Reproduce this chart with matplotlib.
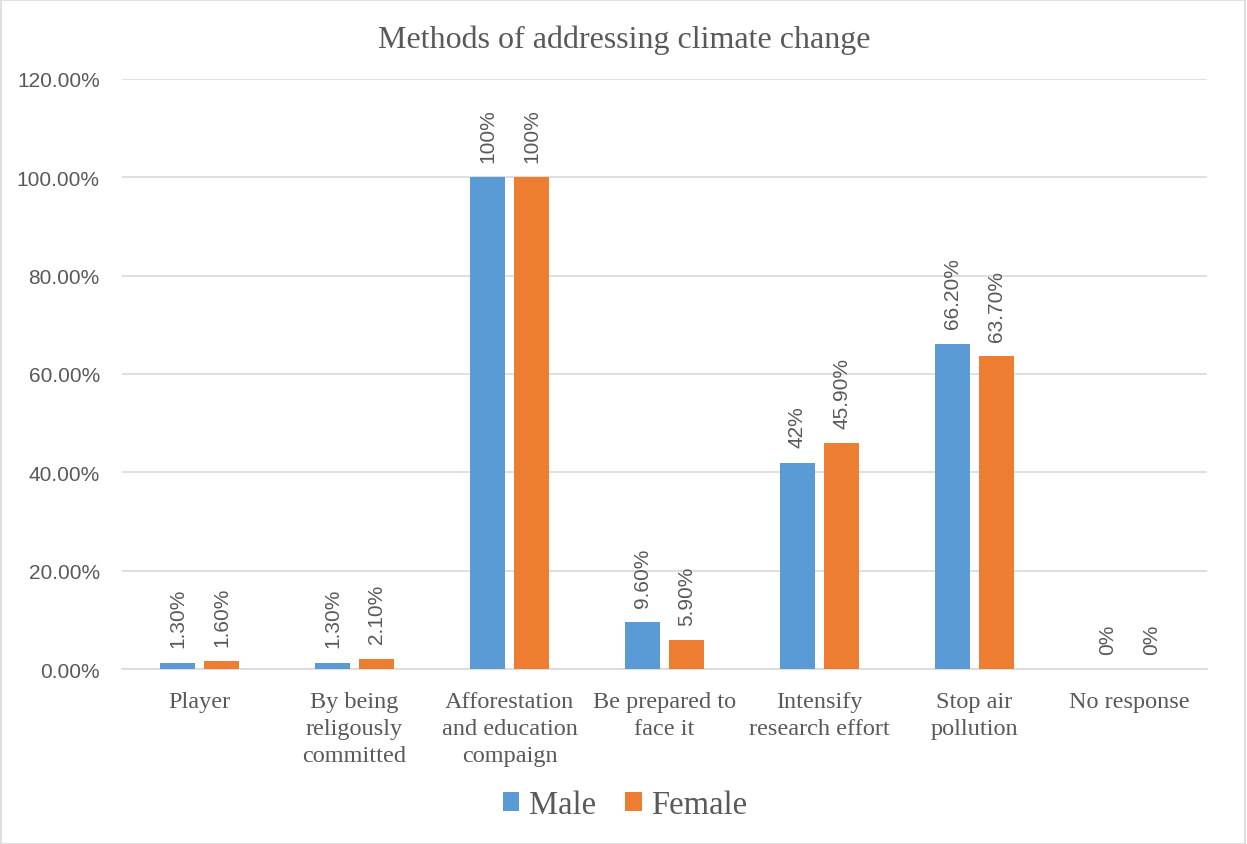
import matplotlib
matplotlib.use("Agg")
import matplotlib.pyplot as plt
import numpy as np
from matplotlib.patches import Rectangle

categories = ["Player", "By being\nreligously\ncommitted", "Afforestation\nand education\ncompaign",
              "Be prepared to\nface it", "Intensify\nresearch effort", "Stop air\npollution", "No response"]
male = [1.3, 1.3, 100, 9.6, 42, 66.2, 0]
female = [1.6, 2.1, 100, 5.9, 45.9, 63.7, 0]
male_labels = ["1.30%", "1.30%", "100%", "9.60%", "42%", "66.20%", "0%"]
female_labels = ["1.60%", "2.10%", "100%", "5.90%", "45.90%", "63.70%", "0%"]
yticks = [0, 20, 40, 60, 80, 100, 120]
ytick_labels = ["0.00%", "20.00%", "40.00%", "60.00%", "80.00%", "100.00%", "120.00%"]

BLUE = "#5B9BD5"
ORANGE = "#ED7D31"
TXT = "#595959"
GRID = "#D9D9D9"
SERIF = ["Liberation Serif", "DejaVu Serif"]
SANS = ["Liberation Sans", "DejaVu Sans"]

fig = plt.figure(figsize=(12.47, 8.45), dpi=100)
fig.patches.append(Rectangle((0.0005, 0.0005), 0.998, 0.998, transform=fig.transFigure,
                             fill=False, edgecolor="#D9D9D9", linewidth=1.2))
ax = fig.add_axes([122/1247, 1-670/845, 1085/1247, 590/845])

x = np.arange(len(categories))
w = 0.226
off = 0.142
bm = ax.bar(x - off, male, w, color=BLUE, label="Male", zorder=3)
bf = ax.bar(x + off, female, w, color=ORANGE, label="Female", zorder=3)

for bars, labs in ((bm, male_labels), (bf, female_labels)):
    for b, lab in zip(bars, labs):
        ax.annotate(lab, (b.get_x() + b.get_width()/2, b.get_height()),
                    xytext=(0, 11), textcoords="offset points", rotation=90,
                    ha="center", va="bottom", fontsize=15, color=TXT, family=SANS)

ax.set_xlim(-0.5, len(categories) - 0.5)
ax.set_ylim(0, 120)
ax.set_yticks(yticks)
ax.set_yticklabels(ytick_labels, fontsize=15, color=TXT, family=SANS)
ax.set_xticks(x)
ax.set_xticklabels(categories, fontsize=17.5, color=TXT, family=SERIF, linespacing=1.38, va="top")
ax.tick_params(axis="both", length=0)
ax.tick_params(axis="x", pad=15.5)
ax.tick_params(axis="y", pad=16)
ax.grid(axis="y", color=GRID, linewidth=1.2, zorder=0)
for s in ["top", "right", "left"]:
    ax.spines[s].set_visible(False)
ax.spines["bottom"].set_color(GRID)
ax.spines["bottom"].set_linewidth(1.2)

fig.text(624/1247, 1-40/845, "Methods of addressing climate change", ha="center", va="center",
         fontsize=23, color=TXT, family=SERIF)

leg = fig.legend(handles=[bm, bf], loc="center", bbox_to_anchor=(625/1247, 1-806/845), ncol=2,
                 frameon=False, prop={"family": SERIF, "size": 23.5}, handlelength=0.5,
                 handleheight=0.5, handletextpad=0.3, columnspacing=0.9)
for t in leg.get_texts():
    t.set_color(TXT)

fig.savefig("out.png", dpi=100)
